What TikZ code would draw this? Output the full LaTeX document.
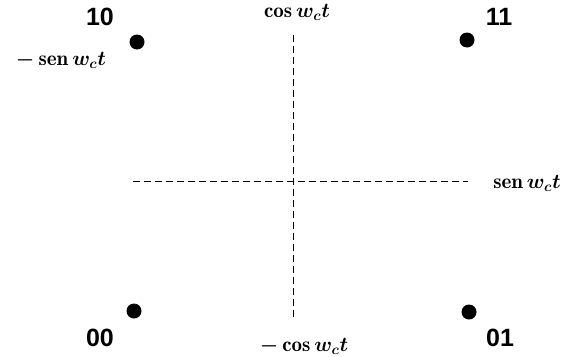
\documentclass[tikz,border=0pt]{standalone}
\usepackage{amsmath}
\usepackage{fontspec}
\setsansfont{Liberation Sans}
\usetikzlibrary{positioning}

\begin{document}
\begin{tikzpicture}[
  x=1pt, y=-1pt,
  dot/.style={circle, fill=black, inner sep=0pt, minimum size=15pt},
  bits/.style={font=\fontsize{25}{25}\selectfont\sffamily\bfseries, inner sep=0pt},
  axlabel/.style={font=\fontsize{21}{21}\selectfont\boldmath, inner sep=0pt},
  axis/.style={line width=1pt, dash pattern=on 7pt off 4pt}
]
  \useasboundingbox (0,0) rectangle (572,356);

  % ejes
  \coordinate (vtop) at (293,35);
  \coordinate (vbot) at (293,318);
  \coordinate (hleft) at (133,181);
  \coordinate (hright) at (468,181);
  \draw[axis] (vtop) -- (vbot);
  \draw[axis] (hleft) -- (hright);

  \node[axlabel] (cosp) at (297,12) {$\cos w_c t$};
  \node[axlabel] (cosn) at (304,346) {$-\cos w_c t$};
  \node[axlabel] (senn) at (61,60) {$-\operatorname{sen} w_c t$};
  \node[axlabel] (senp) at (527,183) {$\operatorname{sen} w_c t$};

  % simbolos
  \node[dot] (s10) at (137,42) {};
  \node[dot] (s11) at (467,40) {};
  \node[dot] (s00) at (134,311) {};
  \node[dot] (s01) at (469,312) {};

  \node[bits] (b10) at (100,17) {10};
  \node[bits] (b11) at (499,17) {11};
  \node[bits] (b00) at (100,338) {00};
  \node[bits] (b01) at (500,338) {01};
\end{tikzpicture}
\end{document}
